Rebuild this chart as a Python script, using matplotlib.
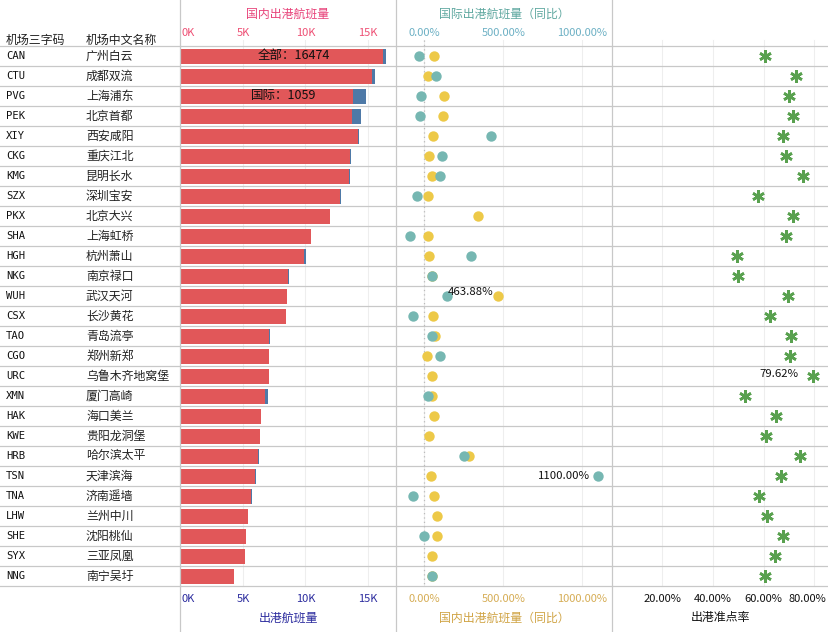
import numpy as np
import matplotlib as mpl
mpl.use('agg')

import matplotlib.pyplot as plt
from matplotlib.lines import Line2D

plt.rcParams['font.family'] = ['Noto Sans CJK SC', 'DejaVu Sans']

codes = ['CAN', 'CTU', 'PVG', 'PEK', 'XIY', 'CKG', 'KMG', 'SZX', 'PKX', 'SHA', 'HGH', 'NKG', 'WUH', 'CSX',
	'TAO', 'CGO', 'URC', 'XMN', 'HAK', 'KWE', 'HRB', 'TSN', 'TNA', 'LHW', 'SHE', 'SYX', 'NNG']
names = ['广州白云', '成都双流', '上海浦东', '北京首都', '西安咸阳', '重庆江北', '昆明长水', '深圳宝安', '北京大兴',
	'上海虹桥', '杭州萧山', '南京禄口', '武汉天河', '长沙黄花', '青岛流亭', '郑州新郑', '乌鲁木齐地窝堡', '厦门高崎',
	'海口美兰', '贵阳龙洞堡', '哈尔滨太平', '天津滨海', '济南遥墙', '兰州中川', '沈阳桃仙', '三亚凤凰', '南宁吴圩']

domestic = [16224, 15296, 13781, 13720, 14200, 13560, 13507, 12760, 11960, 10440, 9880, 8600, 8520, 8440,
	7107, 7080, 7080, 6760, 6440, 6360, 6200, 5987, 5667, 5400, 5240, 5160, 4280]
international = [250, 264, 1059, 720, 80, 80, 53, 80, 0, 0, 160, 80, 0, 0,
	53, 0, 0, 240, 0, 0, 80, 53, 53, 0, 0, 0, 0]

domestic_yoy = [61, 25, 125, 118, 53, 28, 47, 21, 338, 21, 28, 47, 463.88, 55,
	68, 15, 49, 49, 59, 28, 283, 41, 59, 78, 78, 47, 49]
international_yoy = [-33, 74, -21, -27, 422, 112, 99, -48, np.nan, -92, 296, 47, 142, -73,
	49, 99, np.nan, 23, np.nan, np.nan, 251, 1100, -73, np.nan, -2, np.nan, 49]

on_time = [60.6, 72.8, 70.0, 71.6, 67.6, 68.8, 75.5, 57.7, 71.6, 68.8, 49.5, 49.9, 69.6, 62.5,
	70.8, 70.4, 79.62, 52.7, 64.9, 60.9, 74.4, 66.9, 58.2, 61.4, 67.6, 64.5, 60.6]

bar_ticks = [0, 5000, 10000, 15000]
bar_tick_labels = ['0K', '5K', '10K', '15K']
yoy_ticks = [0, 500, 1000]
yoy_tick_labels = ['0.00%', '500.00%', '1000.00%']
rate_ticks = [20, 40, 60, 80]
rate_tick_labels = ['20.00%', '40.00%', '60.00%', '80.00%']

W, H = 829, 632
TOP, BOTTOM = 46, 586
LINE = '#c8c8c8'
GRID = '#eeeeee'
RED = '#e15759'
BLUE = '#4e79a7'
TEAL = '#76b7b2'
GOLD = '#edc948'
GREEN = '#59a14f'


def panel(x0, x1, xlim):
	ax = fig.add_axes([x0 / W, 1 - BOTTOM / H, (x1 - x0) / W, (BOTTOM - TOP) / H])
	ax.set_xlim(*xlim)
	ax.set_ylim(len(codes), 0)
	ax.axis('off')
	for i in range(len(codes) + 1):
		ax.plot(xlim, [i, i], color=LINE, lw=0.9, zorder=1, clip_on=False)
	return ax


def ticks(ax, locs, labels, top_color, bottom_color, offsets=None):
	offsets = offsets or {}
	for loc, label in zip(locs, labels):
		ax.plot([loc, loc], [-0.28, len(codes)], color=GRID, lw=0.8, zorder=0, clip_on=False)
		dx, ha = offsets.get(label, (0, 'center'))
		if top_color:
			ax.annotate(label, (loc, 0), xytext=(dx, 13 * 0.72), textcoords='offset points', ha=ha, va='center',
				fontsize=8, color=top_color, annotation_clip=False)
		ax.annotate(label, (loc, len(codes)), xytext=(dx, -13 * 0.72), textcoords='offset points', ha=ha, va='center',
			fontsize=8, color=bottom_color, annotation_clip=False)


def fig_text(x, y, s, **kw):
	fig.text(x / W, 1 - y / H, s, va='center', **kw)


fig = plt.figure(figsize=(W / 100, H / 100), dpi=100)
y = np.arange(len(codes)) + 0.5

# left columns
ax_names = panel(0, 180.5, (0, 180.5))
for i in range(len(codes)):
	ax_names.text(6, y[i], codes[i], va='center', fontsize=7.6, family='DejaVu Sans Mono', color='#111111')
	ax_names.text(86, y[i], names[i], va='center', fontsize=8.6, color='#222222')
fig_text(6, 40, '机场三字码', fontsize=8.6, color='#222222')
fig_text(86, 40, '机场中文名称', fontsize=8.6, color='#222222')

# flights
ax_bar = panel(180.5, 396.5, (0, 17280))
ticks(ax_bar, bar_ticks, bar_tick_labels, '#ee4f74', '#2b2b9e', {'0K': (1, 'left')})
ax_bar.barh(y, domestic, height=0.75, color=RED, zorder=2)
ax_bar.barh(y, international, left=domestic, height=0.75, color=BLUE, zorder=2)
ax_bar.text(9080, y[0], '全部：16474', ha='center', va='center', fontsize=9, color='#111111', zorder=3)
ax_bar.text(8220, y[2], '国际：1059', ha='center', va='center', fontsize=9, color='#111111', zorder=3)
fig_text(288, 14, '国内出港航班量', ha='center', fontsize=8.6, color='#e8437a')
fig_text(288, 618, '出港航班量', ha='center', fontsize=8.6, color='#2b2b9e')

# year on year
ax_yoy = panel(396.5, 612.5, (-176, 1191))
ticks(ax_yoy, yoy_ticks, yoy_tick_labels, '#6cb0c4', '#d6ad55')
ax_yoy.plot([0, 0], [-0.28, len(codes)], color='#bbbbbb', lw=0.9, ls=(0, (1, 2.5)), zorder=1, clip_on=False)
ax_yoy.scatter(domestic_yoy, y, s=56, color=GOLD, linewidths=0, zorder=3)
ax_yoy.scatter(international_yoy, y, s=56, color=TEAL, linewidths=0, zorder=4)
ax_yoy.text(296, y[12] - 0.2, '463.88%', ha='center', va='center', fontsize=8.2, color='#111111', zorder=5)
ax_yoy.text(1048, y[21], '1100.00%', ha='right', va='center', fontsize=8.2, color='#111111', zorder=5)
fig_text(504, 14, '国际出港航班量（同比）', ha='center', fontsize=8.6, color='#5fa8a0')
fig_text(504, 618, '国内出港航班量（同比）', ha='center', fontsize=8.6, color='#d0a445')

# on time rate
ax_rate = panel(612.5, 829, (0.35, 85.85))
ticks(ax_rate, rate_ticks, rate_tick_labels, None, '#111111', {'80.00%': (8.6, 'right')})
ax_rate.plot(on_time, y, ls='none', marker=(6, 2, 0), ms=9, mew=1.9, color=GREEN, zorder=3)
ax_rate.text(73.9, y[16] - 0.1, '79.62%', ha='right', va='center', fontsize=8.2, color='#111111', zorder=5)
fig_text(720, 618, '出港准点率', ha='center', fontsize=8.6, color='#111111')

# panel dividers run the full height
for px in [180.5, 396.5, 612.5]:
	fig.add_artist(Line2D([px / W, px / W], [0, 1], color=LINE, lw=0.9))

fig.savefig('out.png', dpi=100)
